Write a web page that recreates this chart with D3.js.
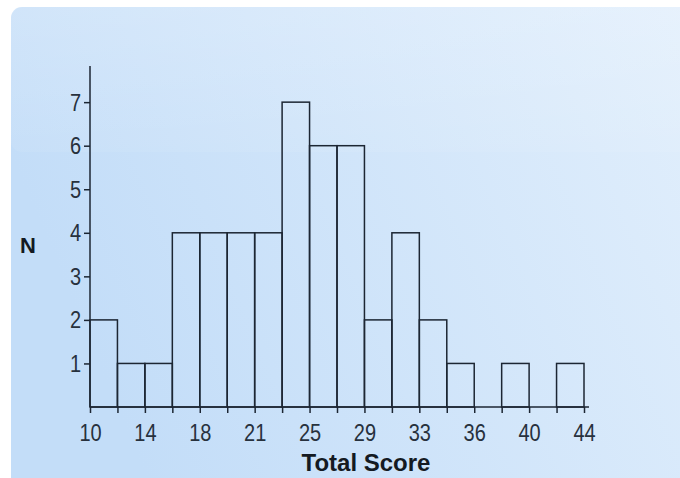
<!DOCTYPE html>
<html><head><meta charset="utf-8">
<script src="https://cdn.jsdelivr.net/npm/d3@7"></script>
<style>html,body{margin:0;padding:0;background:#fff;}svg{display:block;}</style>
</head><body>
<script>
const binStart = 10, binEnd = 44, binCount = 18;
const counts = [2,1,1,4,4,4,4,7,6,6,2,4,2,1,0,1,0,1];
const xTickLabels = ["10","14","18","21","25","29","33","36","40","44"];
const yTicks = [1,2,3,4,5,6,7];
const xTitle = "Total Score", yTitle = "N";

const W = 680, H = 478;
const FONT = "Liberation Sans, Arial, sans-serif";
const SY = 1.2;
const svg = d3.select("body").append("svg").attr("width", W).attr("height", H);
const defs = svg.append("defs");
const g1 = defs.append("linearGradient").attr("id","bg").attr("x1","0").attr("x2","1").attr("y1","0.3").attr("y2","0");
g1.append("stop").attr("offset","0").attr("stop-color","#c3ddf8");
g1.append("stop").attr("offset","1").attr("stop-color","#e2effc");
const g2 = defs.append("linearGradient").attr("id","gloss").attr("x1","0").attr("x2","0").attr("y1","0").attr("y2","1");
g2.append("stop").attr("offset","0").attr("stop-color","#ffffff").attr("stop-opacity",0.2);
g2.append("stop").attr("offset","1").attr("stop-color","#ffffff").attr("stop-opacity",0.06);

svg.append("rect").attr("x",11).attr("y",7).attr("width",W+20).attr("height",H+20).attr("rx",11).attr("fill","url(#bg)");
svg.append("rect").attr("x",11).attr("y",7).attr("width",W+20).attr("height",145).attr("rx",11).attr("fill","url(#gloss)");

const binW = (binEnd - binStart) / binCount;
const edges = d3.range(binCount + 1).map(i => binStart + i * binW);
const bins = counts.map((c, i) => ({x0: edges[i], x1: edges[i+1], n: c}));

const x = d3.scaleLinear().domain([binStart, binEnd]).range([90, 584]);
const y = d3.scaleLinear().domain([0, 7.83]).range([407, 66]);
const ink = "#1c2633";

svg.append("g").selectAll("rect").data(bins.filter(b => b.n > 0)).join("rect")
  .attr("x", d => x(d.x0)).attr("y", d => y(d.n))
  .attr("width", d => x(d.x1) - x(d.x0)).attr("height", d => y(0) - y(d.n))
  .attr("fill","none").attr("stroke", ink).attr("stroke-width", 1.5);

const xAxis = d3.axisBottom(x).tickValues(edges).tickSize(6).tickSizeOuter(0)
  .tickFormat((d, i) => i % 2 === 0 ? xTickLabels[i/2] : "");
const gx = svg.append("g").attr("transform", `translate(0,${y(0)})`).call(xAxis);
gx.select(".domain").remove();
gx.append("line").attr("x1", 90).attr("x2", 589).attr("stroke", ink).attr("stroke-width", 1.5);
gx.selectAll(".tick line").attr("stroke", ink).attr("stroke-width", 1.5);
gx.selectAll(".tick text").attr("font-family", FONT).attr("font-size", 20)
  .attr("fill","#27313d").attr("y", 34.5 / SY).attr("dy", null).attr("transform", `scale(1,${SY})`);

const yAxis = d3.axisLeft(y).tickValues(yTicks).tickSize(6).tickSizeOuter(0).tickFormat(d3.format("d"));
const gy = svg.append("g").attr("transform", `translate(90,0)`).call(yAxis);
gy.select(".domain").remove();
gy.append("line").attr("y1", 66).attr("y2", 407).attr("stroke", ink).attr("stroke-width", 1.5);
gy.selectAll(".tick line").attr("stroke", ink).attr("stroke-width", 1.5);
gy.selectAll(".tick text").attr("font-family", FONT).attr("font-size", 20)
  .attr("fill","#27313d").attr("x", -9).attr("y", 8 / SY).attr("dy", null)
  .attr("transform", `scale(1,${SY})`);

svg.append("text").attr("x", 366).attr("y", 471).attr("text-anchor","middle")
  .attr("font-family", FONT).attr("font-weight","bold").attr("font-size",24)
  .attr("fill","#141a22").text(xTitle);
svg.append("text").attr("x", 28).attr("y", 253).attr("text-anchor","middle")
  .attr("font-family", FONT).attr("font-weight","bold").attr("font-size",22)
  .attr("fill","#141a22").text(yTitle);
</script>
</body></html>
